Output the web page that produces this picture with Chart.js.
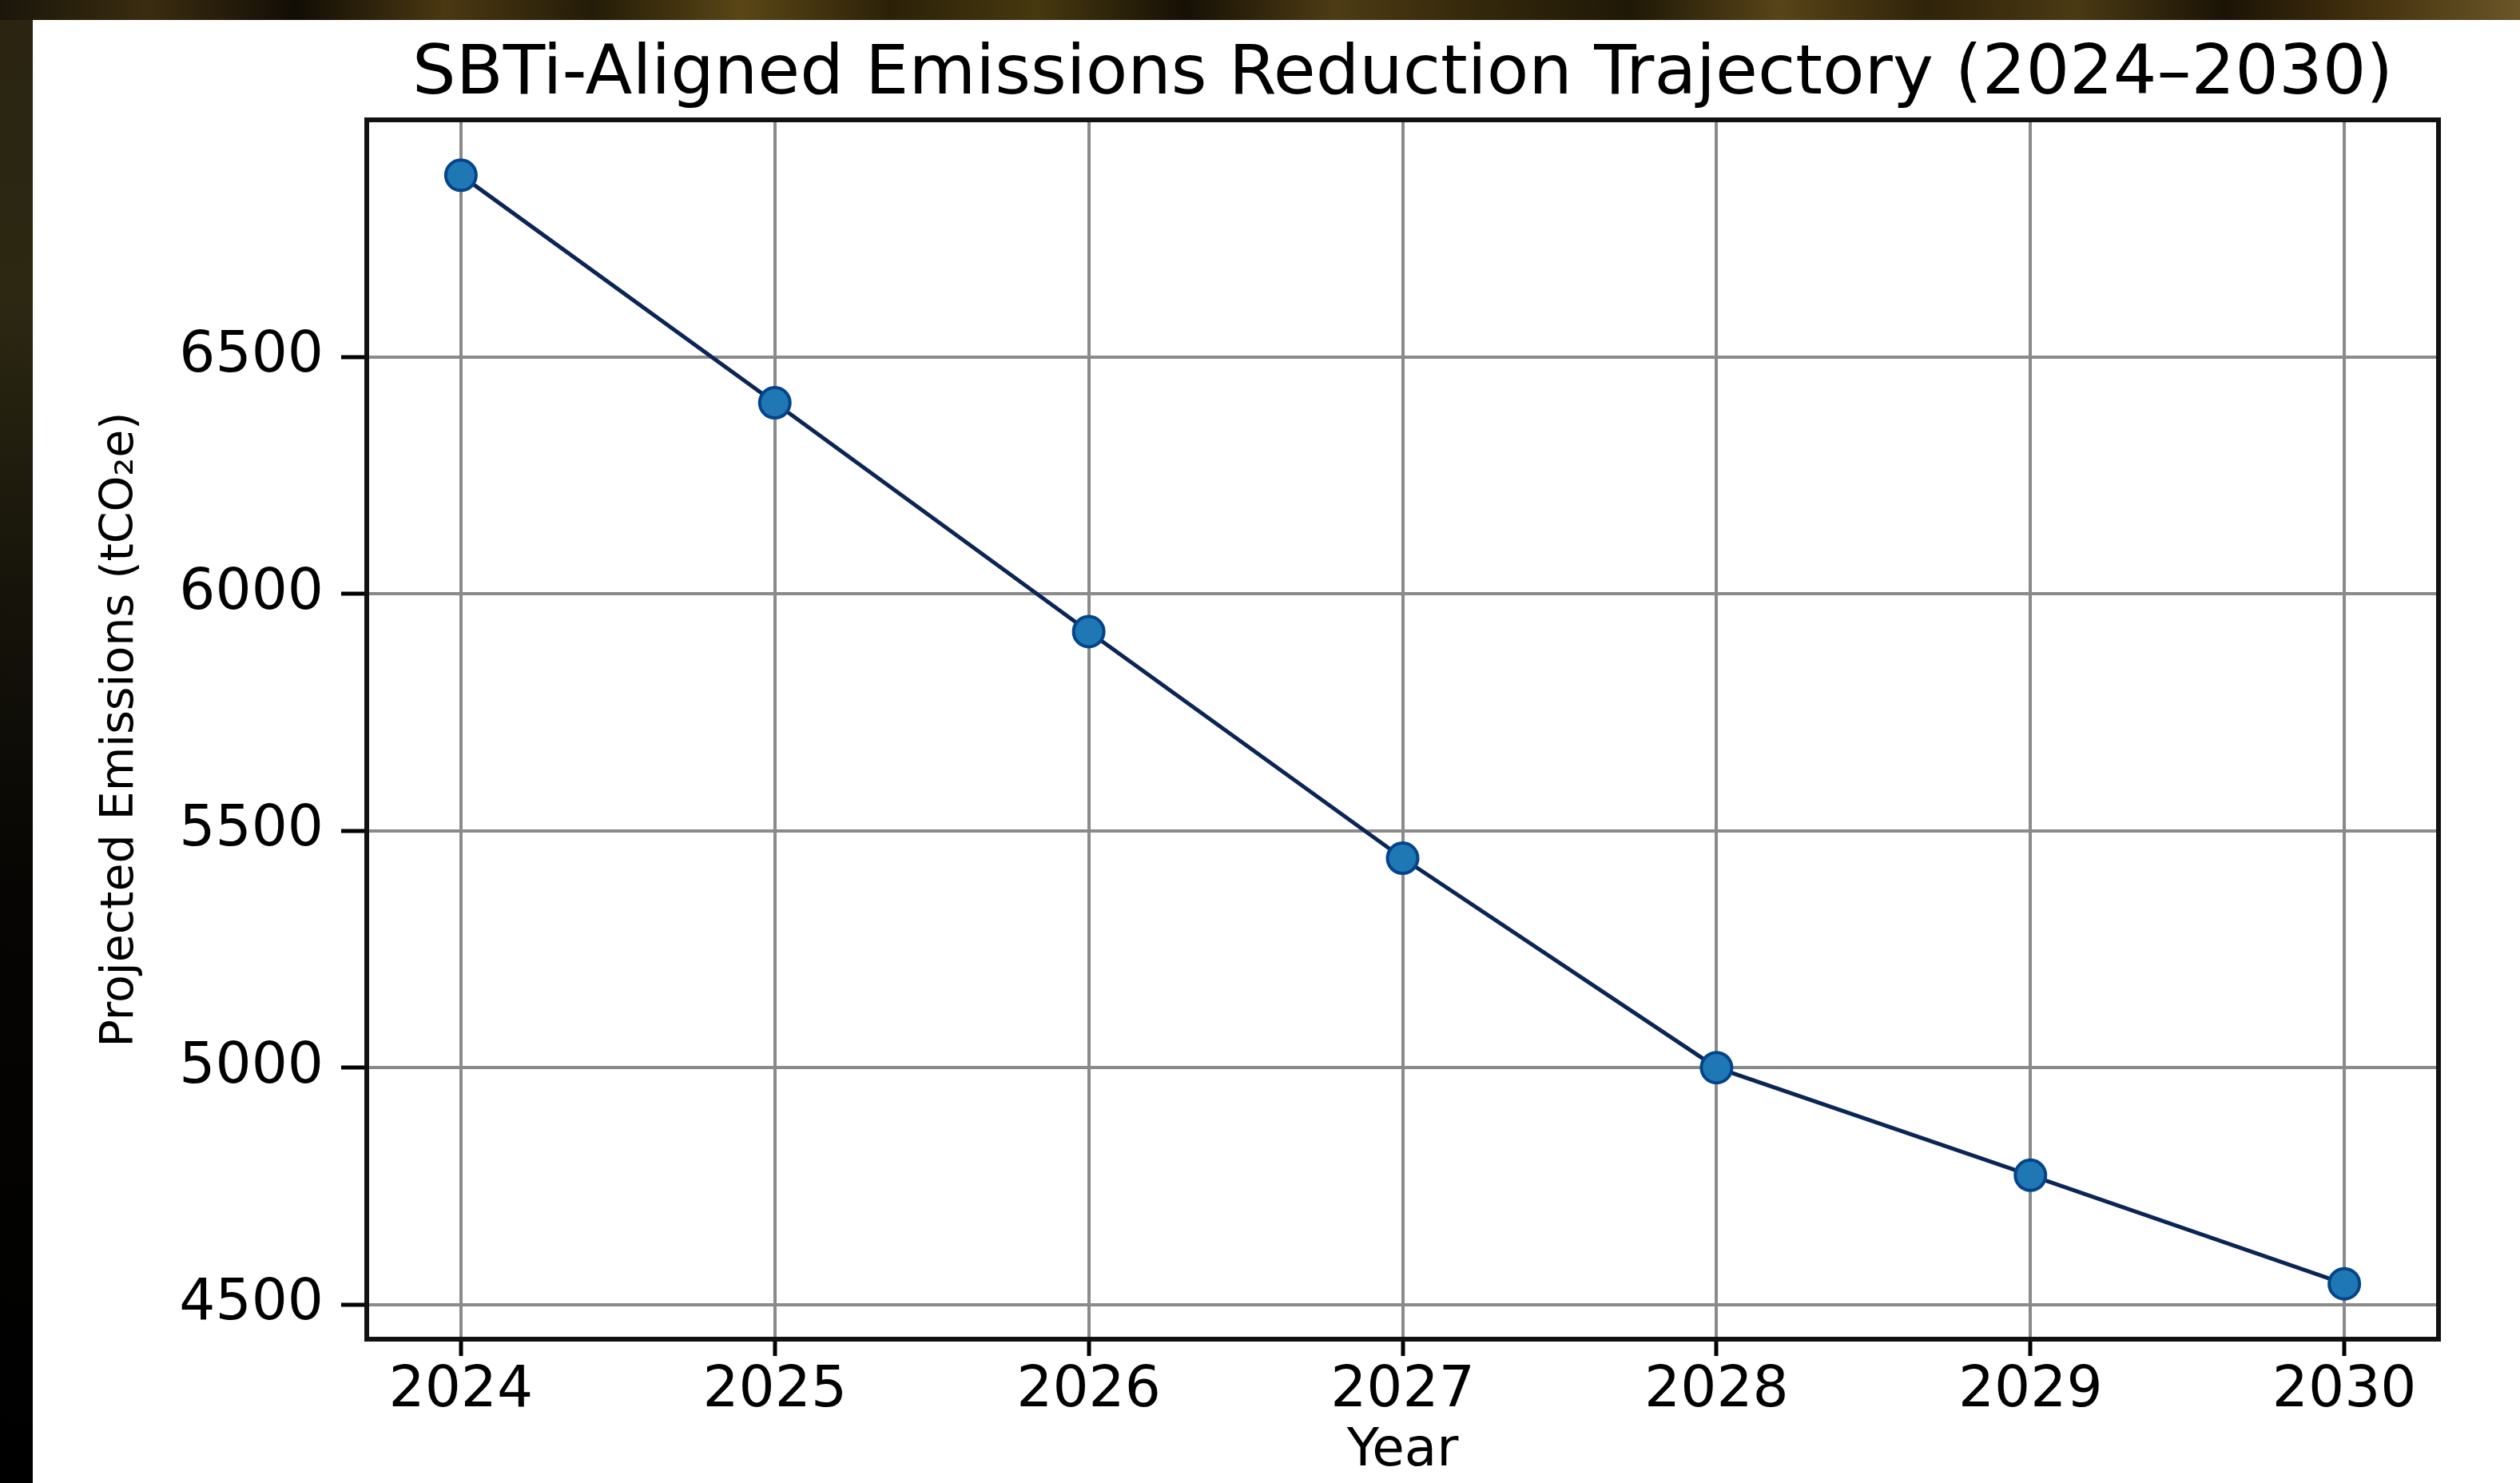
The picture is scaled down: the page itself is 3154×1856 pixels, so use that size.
<!DOCTYPE html>
<html><head><meta charset="utf-8">
<script src="https://cdn.jsdelivr.net/npm/chart.js@4.4.1/dist/chart.umd.min.js"></script>
<style>html,body{margin:0;padding:0;background:#000;overflow:hidden}canvas{display:block}</style>
</head><body>
<canvas id="c" width="3154" height="1856"></canvas>
<script>
// ---- data ----
const years = [2024, 2025, 2026, 2027, 2028, 2029, 2030];
const emissions = [6883, 6403, 5920, 5442, 5000, 4773, 4544];
const yTickValues = [4500, 5000, 5500, 6000, 6500];
const xTickValues = years;
const titleText = 'SBTi-Aligned Emissions Reduction Trajectory (2024\u20132030)';
const xTitleText = 'Year';
const yTitleText = 'Projected Emissions (tCO\u2082e)';

// ---- layout ----
const W = 3154, H = 1856;
const PLOT = {left: 459, top: 150, right: 3052, bottom: 1676};
const PANEL = {x: 41, y: 25};
const FONT = "'DejaVu Sans', sans-serif";

const bgPlugin = {
  id: 'bg',
  beforeDraw(chart) {
    const ctx = chart.ctx;
    ctx.save();
    const gt = ctx.createLinearGradient(0, 0, W, 0);
    const stops = ['#1a160a','#3a2c10','#120d05','#4a3812','#241c08','#5a4616','#2c2108','#46380f','#161005','#4d3c14','#33270b','#1f1807','#584418','#2f2309','#4a3a14','#1b1306','#45320e','#6a5628'];
    stops.forEach((c, i) => gt.addColorStop(i / (stops.length - 1), c));
    ctx.fillStyle = gt;
    ctx.fillRect(0, 0, W, H);
    const gl = ctx.createLinearGradient(0, 0, 0, H);
    gl.addColorStop(0, '#2a2410');
    gl.addColorStop(0.2, '#2c2812');
    gl.addColorStop(0.4, '#16140a');
    gl.addColorStop(0.6, '#060503');
    gl.addColorStop(1, '#000000');
    ctx.fillStyle = gl;
    ctx.fillRect(0, PANEL.y, PANEL.x, H);
    ctx.fillStyle = '#ffffff';
    ctx.fillRect(PANEL.x, PANEL.y, W - PANEL.x, H - PANEL.y);
    ctx.restore();
  }
};

const framePlugin = {
  id: 'frame',
  afterDraw(chart) {
    const {ctx, chartArea: a} = chart;
    ctx.save();
    ctx.strokeStyle = '#111111';
    ctx.lineWidth = 6;
    ctx.strokeRect(a.left, a.top, a.right - a.left, a.bottom - a.top);
    ctx.restore();
  }
};

const yRange = Math.max(...emissions) - Math.min(...emissions);
const yMin = Math.min(...emissions) - 0.05 * yRange;
const yMax = Math.max(...emissions) + 0.05 * yRange;
const xSpan = years[years.length - 1] - years[0];

new Chart(document.getElementById('c'), {
  type: 'line',
  data: {
    datasets: [{
      data: years.map((y, i) => ({x: y, y: emissions[i]})),
      borderColor: '#0a2556',
      borderWidth: 5,
      pointRadius: 19,
      pointBorderWidth: 4,
      pointBackgroundColor: '#1f77b4',
      pointBorderColor: '#05448a',
      tension: 0,
      fill: false
    }]
  },
  plugins: [bgPlugin, framePlugin],
  options: {
    responsive: false,
    devicePixelRatio: 1,
    animation: false,
    layout: {padding: {top: 0, left: 0, right: W - PLOT.right, bottom: 0}},
    plugins: {
      legend: {display: false},
      tooltip: {enabled: false},
      title: {
        display: true,
        fullSize: false,
        text: titleText,
        color: '#000',
        font: {family: FONT, size: 86, weight: 'normal', lineHeight: 1.2},
        padding: {top: 43, bottom: 3.8}
      }
    },
    scales: {
      x: {
        type: 'linear',
        min: years[0] - 0.05 * xSpan,
        max: years[years.length - 1] + 0.05 * xSpan,
        afterBuildTicks: s => { s.ticks = xTickValues.map(v => ({value: v})); },
        afterFit: s => { s.height = H - PLOT.bottom; },
        border: {display: false},
        grid: {color: '#8a8a8a', lineWidth: 4, drawTicks: true, tickLength: 21, tickColor: '#000', tickWidth: 5},
        ticks: {color: '#000', font: {family: FONT, size: 71}, padding: 2, maxRotation: 0, autoSkip: false,
                callback: v => String(v)},
        title: {display: true, text: xTitleText, color: '#000', font: {family: FONT, size: 66, lineHeight: 1.2}, padding: {top: 0, bottom: 0}}
      },
      y: {
        type: 'linear',
        min: yMin,
        max: yMax,
        afterBuildTicks: s => { s.ticks = yTickValues.map(v => ({value: v})); },
        afterFit: s => { s.width = PLOT.left; },
        border: {display: false},
        grid: {color: '#8a8a8a', lineWidth: 4, drawTicks: true, tickLength: 32, tickColor: '#000', tickWidth: 5},
        ticks: {color: '#000', font: {family: FONT, size: 71}, padding: 22, autoSkip: false,
                callback: v => String(v)},
        title: {display: true, text: yTitleText, color: '#000', font: {family: FONT, size: 57, lineHeight: 1.2}, padding: {top: 117, bottom: 0}}
      }
    }
  }
});
</script>
</body></html>
